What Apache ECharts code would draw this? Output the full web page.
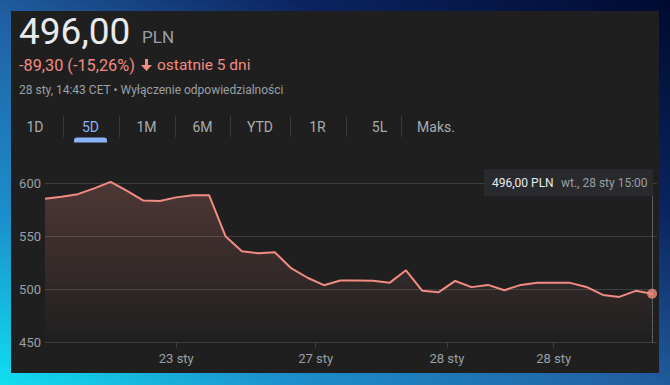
<!DOCTYPE html>
<html>
<head>
<meta charset="utf-8">
<script src="https://cdn.jsdelivr.net/npm/echarts@6/dist/echarts.min.js"></script>
<style>
  html, body { margin: 0; padding: 0; }
  body {
    width: 670px; height: 385px; overflow: hidden; position: relative;
    background: linear-gradient(to top right, #10dff0 0%, #1c8fcc 22%, #2160a2 48%, #0b2460 72%, #000a30 100%);
  }
  #panel { position: absolute; left: 11px; top: 11px; width: 648px; height: 362px; background: #1f1f1f; }
  #chart { position: absolute; left: 0; top: 0; width: 670px; height: 385px; }
</style>
</head>
<body>
<div id="panel"></div>
<div id="chart"></div>
<script>
// ---- data ----
const prices = [
  585.3, 587, 589.5, 595, 601, 592.5, 583.5, 583, 586.5, 588.5,
  588.5, 550, 536, 534, 535, 520, 511, 504, 508.5, 508.5,
  508.2, 506.2, 518, 498.7, 497.5, 508, 502.2, 504.3, 499.3, 504.3,
  506.2, 506.2, 506.2, 502.4, 494.9, 493, 498.7, 496
];
const xTickPositions = [8, 16.5, 24.5, 31];
const xTickLabels = ['23 sty', '27 sty', '28 sty', '28 sty'];
const yMin = 450, yMax = 600, yStep = 50;
const rangeTabs = ['1D', '5D', '1M', '6M', 'YTD', '1R', '5L', 'Maks.'];
const tabCenters = [35, 90.5, 146.5, 202.5, 260, 317.5, 379.5, 436];
const tabSeparators = [63, 119, 175, 230, 290, 346, 401];
const selectedTab = '5D';
const priceText = '496,00';
const currencyText = 'PLN';
const changeText = '-89,30 (-15,26%)';
const periodText = 'ostatnie 5 dni';
const infoText = '28 sty, 14:43 CET • Wyłączenie odpowiedzialności';
const tipValue = '496,00 PLN';
const tipDate = 'wt., 28 sty 15:00';

const lineData = prices.map((v, i) => [i, v]);
const lastIdx = prices.length - 1;
const FONT = 'Roboto, "Noto Sans", sans-serif';

const graphics = [
  { type: 'text', x: 19, y: 31, style: { text: priceText, fill: '#e8eaed', font: '400 37px ' + FONT, verticalAlign: 'middle' } },
  { type: 'text', x: 142, y: 36.5, style: { text: currencyText, fill: '#9aa0a6', font: '400 17px ' + FONT, verticalAlign: 'middle' } },
  { type: 'text', x: 19, y: 65, style: { text: changeText, fill: '#f28b82', font: '400 16.3px ' + FONT, verticalAlign: 'middle' } },
  { type: 'polygon', shape: { points: [[145, 59], [148, 59], [148, 65], [152, 65], [146.5, 71], [141, 65], [145, 65]] }, style: { fill: '#f28b82' } },
  { type: 'text', x: 157, y: 65, style: { text: periodText, fill: '#f28b82', font: '400 15.5px ' + FONT, verticalAlign: 'middle' } },
  { type: 'text', x: 19, y: 90, style: { text: infoText, fill: '#9aa0a6', font: '400 12px ' + FONT, verticalAlign: 'middle' } },
  // underline of selected tab
  { type: 'rect', shape: { x: 74, y: 137.5, width: 33, height: 5, r: [3, 3, 0, 0] }, style: { fill: '#8ab4f8' } },
  // tooltip box
  { type: 'rect', z: 100, shape: { x: 484, y: 169, width: 169, height: 27 }, style: { fill: '#292a2d' } },
  { type: 'text', z: 101, x: 492, y: 182.5, style: { text: tipValue, fill: '#e8eaed', font: '400 12px ' + FONT, verticalAlign: 'middle' } },
  { type: 'text', z: 101, x: 561, y: 182.5, style: { text: tipDate, fill: '#9aa0a6', font: '400 12px ' + FONT, verticalAlign: 'middle' } }
];
rangeTabs.forEach((t, i) => {
  graphics.push({ type: 'text', x: tabCenters[i], y: 127, style: { text: t, fill: t === selectedTab ? '#8ab4f8' : '#a9acb1', font: '400 14px ' + FONT, align: 'center', verticalAlign: 'middle' } });
});
tabSeparators.forEach(x => {
  graphics.push({ type: 'rect', shape: { x: x, y: 116, width: 1, height: 21 }, style: { fill: '#3a3b3e' } });
});

const chart = echarts.init(document.getElementById('chart'), null, { renderer: 'svg' });
chart.setOption({
  animation: false,
  backgroundColor: 'transparent',
  textStyle: { fontFamily: FONT },
  grid: { left: 45, right: 13, top: 183, bottom: 42.3 },
  xAxis: {
    type: 'value', min: 0, max: 37.3,
    axisLine: { show: false },
    splitLine: { show: false },
    axisTick: { show: true, customValues: xTickPositions, length: 5, lineStyle: { color: '#3c4043' } },
    axisLabel: {
      customValues: xTickPositions, color: '#9aa0a6', fontSize: 13, margin: 9,
      formatter: v => { const i = xTickPositions.indexOf(v); return i >= 0 ? xTickLabels[i] : ''; }
    }
  },
  yAxis: {
    type: 'value', min: yMin, max: yMax, interval: yStep,
    axisLine: { show: false }, axisTick: { show: false },
    splitLine: { lineStyle: { color: '#3c4043', width: 1 } },
    axisLabel: { color: '#9aa0a6', fontSize: 13, margin: 4 }
  },
  series: [
    {
      type: 'line', data: lineData, symbol: 'none', clip: false,
      lineStyle: { color: '#f28b82', width: 2 },
      areaStyle: {
        color: new echarts.graphic.LinearGradient(0, 0, 0, 1, [
          { offset: 0, color: 'rgba(242,139,130,0.32)' },
          { offset: 1, color: 'rgba(242,139,130,0)' }
        ])
      },
      markLine: {
        silent: true, symbol: 'none', label: { show: false },
        lineStyle: { type: 'dotted', color: '#9aa0a6', width: 1 },
        data: [{ xAxis: lastIdx }]
      }
    },
    {
      type: 'scatter', data: [lineData[lastIdx]], symbol: 'circle', symbolSize: 10,
      itemStyle: { color: '#f28b82' }, z: 5
    }
  ],
  graphic: graphics
});
</script>
</body>
</html>
